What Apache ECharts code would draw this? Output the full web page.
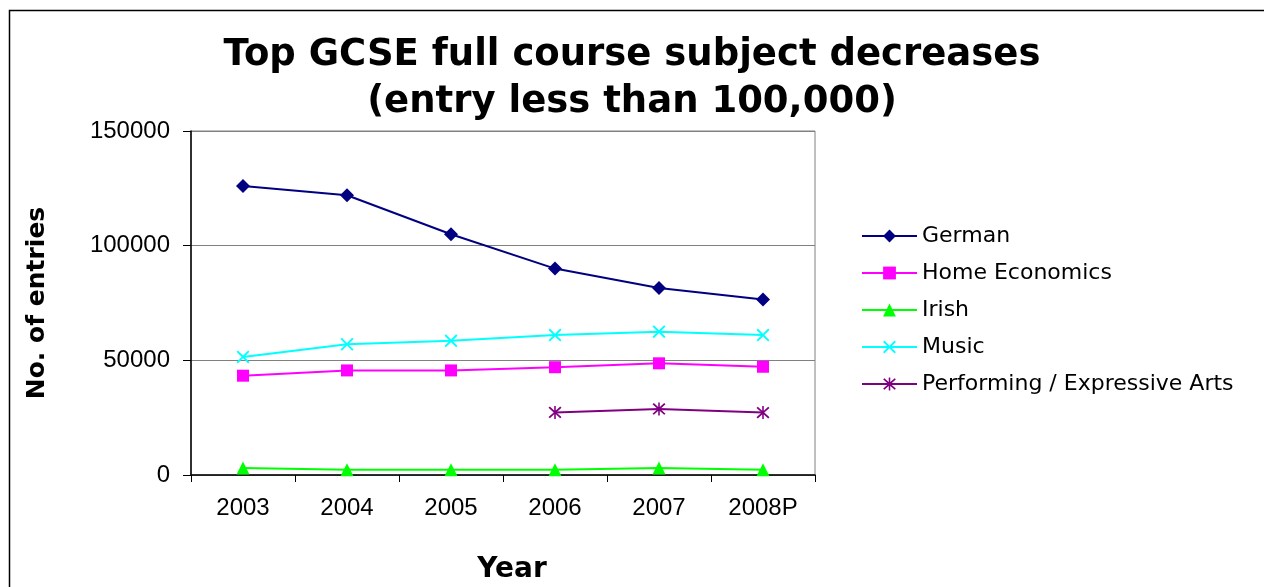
<!DOCTYPE html>
<html>
<head>
<meta charset="utf-8">
<script src="https://cdn.jsdelivr.net/npm/echarts@6/dist/echarts.min.js"></script>
<style>
  html, body { margin: 0; padding: 0; background: #fff; }
  #chart { width: 1264px; height: 587px; }
</style>
</head>
<body>
<div id="chart"></div>
<script>
const years = ['2003', '2004', '2005', '2006', '2007', '2008P']
const german = [126000, 122000, 105000, 90000, 81500, 76500]
const homeEconomics = [43300, 45600, 45600, 47000, 48700, 47200]
const irish = [3000, 2300, 2300, 2300, 3000, 2300]
const music = [51500, 57000, 58500, 61000, 62500, 61000]
const performingArts = [null, null, null, 27300, 28800, 27200]
const yTicks = [0, 50000, 100000, 150000]

const font = 'Liberation Sans, Arial, sans-serif'
const wideFont = 'DejaVu Sans, Verdana, sans-serif'

const chart = echarts.init(document.getElementById('chart'))

// filled shapes so they also show up in the legend
const crossPath = 'path://M0,1L1,0L5,4L9,0L10,1L6,5L10,9L9,10L5,6L1,10L0,9L4,5Z'
const starPath = 'path://M0,1L1,0L5,4L9,0L10,1L6,5L10,9L9,10L5,6L1,10L0,9L4,5ZM4.4,-0.5L5.6,-0.5L5.6,10.5L4.4,10.5Z'

function line(name, data, color, symbol, size) {
  return {
    name: name,
    type: 'line',
    data: data,
    symbol: symbol,
    symbolSize: size,
    connectNulls: false,
    itemStyle: { color: color },
    lineStyle: { color: color, width: 2 },
    animation: false
  }
}

const option = {
  backgroundColor: '#fff',
  title: {
    text: 'Top GCSE full course subject decreases\n(entry less than 100,000)',
    left: 'center',
    top: 27,
    textStyle: {
      fontFamily: wideFont,
      fontWeight: 'bold',
      fontSize: 37,
      lineHeight: 47,
      color: '#000'
    }
  },
  graphic: [{
    type: 'rect',
    shape: { x: 9.5, y: 10.5, width: 1300, height: 700 },
    style: { fill: null, stroke: '#000', lineWidth: 1.5 },
    silent: true
  }],
  legend: {
    orient: 'vertical',
    left: 861,
    top: 225,
    padding: 0,
    itemWidth: 55,
    itemHeight: 16,
    itemGap: 15,
    textStyle: { fontFamily: wideFont, fontSize: 22, color: '#000' },
    data: ['German', 'Home Economics', 'Irish', 'Music', 'Performing / Expressive Arts']
  },
  grid: {
    left: 191,
    right: 449,
    top: 131,
    bottom: 112,
    outerBoundsMode: 'none',
    show: true,
    borderColor: '#808080',
    borderWidth: 1
  },
  xAxis: {
    type: 'category',
    data: years,
    boundaryGap: true,
    name: 'Year',
    nameLocation: 'middle',
    nameGap: 81,
    nameTextStyle: {
      fontFamily: wideFont,
      fontWeight: 'bold',
      fontSize: 28,
      color: '#000',
      padding: [0, 0, 0, 18]
    },
    axisLine: { lineStyle: { color: '#000', width: 1.5 } },
    axisTick: { show: true, length: 7, lineStyle: { color: '#000' } },
    axisLabel: { fontFamily: font, fontSize: 24, color: '#000', margin: 21 }
  },
  yAxis: {
    type: 'value',
    min: 0,
    max: 150000,
    interval: 50000,
    name: 'No. of entries',
    nameLocation: 'middle',
    nameGap: 141,
    nameRotate: 90,
    nameTextStyle: {
      fontFamily: wideFont,
      fontWeight: 'bold',
      fontSize: 25,
      color: '#000'
    },
    axisLine: { show: true, lineStyle: { color: '#000', width: 1.5 } },
    axisTick: { show: true, length: 8, lineStyle: { color: '#000' } },
    splitLine: { show: true, lineStyle: { color: '#808080', width: 1 } },
    axisLabel: {
      fontFamily: font,
      fontSize: 24,
      color: '#000',
      margin: 21,
      formatter: function(v) {
        return yTicks.indexOf(v) >= 0 ? String(v) : ''
      }
    }
  },
  series: [
    line('German', german, '#000080', 'diamond', 14),
    line('Home Economics', homeEconomics, '#ff00ff', 'rect', 12),
    line('Irish', irish, '#00ff00', 'triangle', 13),
    line('Music', music, '#00ffff', crossPath, 13),
    line('Performing / Expressive Arts', performingArts, '#800080', starPath, 13)
  ]
}

chart.setOption(option, true)
</script>
</body>
</html>
